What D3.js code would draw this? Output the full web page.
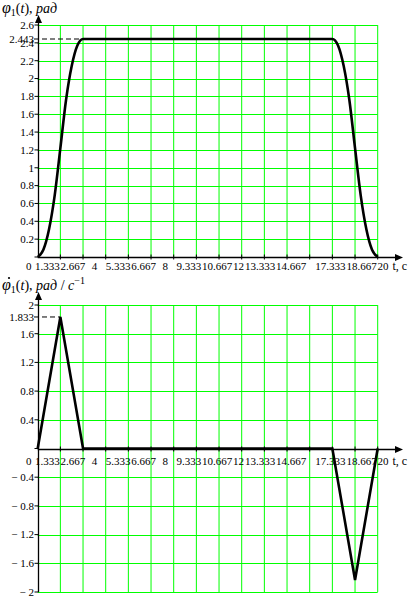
<!DOCTYPE html>
<html lang="ru">
<head>
<meta charset="UTF-8">
<title>φ1(t) и φ̇1(t)</title>
<script src="https://cdnjs.cloudflare.com/ajax/libs/d3/7.8.5/d3.min.js"></script>
<style>
  body { margin: 0; background: #fff; }
  svg text { font-family: "Liberation Serif", "DejaVu Serif", serif; fill: #000; }
  .tick-label { font-size: 11px; }
  .title { font-size: 14px; }
</style>
</head>
<body>
<svg width="417" height="601"></svg>
<script>
// time grid (s) and its labels (Mathcad skipped "16")
const tGrid = [0, 1.333, 2.667, 4, 5.333, 6.667, 8, 9.333, 10.667, 12, 13.333, 14.667, 16, 17.333, 18.667, 20];
const tLabels = ["0", "1.333", "2.667", "4", "5.333", "6.667", "8", "9.333", "10.667", "12", "13.333", "14.667", "17.333", "18.667", "20"];

// angle phi1(t), rad
const phiT = [0, 0.333, 0.667, 1, 1.333, 1.667, 2, 2.333, 2.667, 17.333, 17.667, 18, 18.333, 18.667, 19, 19.333, 19.667, 20];
const phiV = [0, 0.08, 0.31, 0.69, 1.22, 1.76, 2.14, 2.37, 2.443, 2.443, 2.37, 2.14, 1.76, 1.22, 0.69, 0.31, 0.08, 0];
const phiGrid = [0, 0.2, 0.4, 0.6, 0.8, 1, 1.2, 1.4, 1.6, 1.8, 2, 2.2, 2.4, 2.6];
const phiLabels = ["0.2", "0.4", "0.6", "0.8", "1", "1.2", "1.4", "1.6", "1.8", "2", "2.2", "2.4", "2.6"];
const phiMax = 2.443;

// angular velocity, rad/s
const omegaT = [0, 1.333, 2.667, 17.333, 18.667, 20];
const omegaV = [0, 1.833, 0, 0, -1.833, 0];
const omegaGrid = [-2, -1.6, -1.2, -0.8, -0.4, 0, 0.4, 0.8, 1.2, 1.6, 2];
const omegaLabels = ["-2", "-1.6", "-1.2", "-0.8", "-0.4", "0.4", "0.8", "1.2", "1.6", "2"];
const omegaMax = 1.833;

const svg = d3.select("svg");
const green = "#00ff00";

const x = d3.scaleLinear().domain([0, 20]).range([37.7, 377.7]);
const yTop = d3.scaleLinear().domain([0, 2.6]).range([257, 25]);
const yBot = d3.scaleLinear().domain([-2, 2]).range([592, 305]);

// labels drift a little left of their ticks, like in the original
const labelX = t => x(t) - 14 * (1 - t / 20);

function fmt(s) {
    return s.startsWith("-") ? "\u2212 " + s.slice(1) : s;
}

function drawPanel(y, grid, labels, yTopVal, yBotVal, arrowTop, labelDy, special, dashToT) {
    const g = svg.append("g");

    // vertical grid
    g.selectAll(".vg").data(tGrid.filter(t => t > 0)).enter().append("line")
        .attr("x1", d => x(d)).attr("x2", d => x(d))
        .attr("y1", y(yTopVal)).attr("y2", y(yBotVal))
        .attr("stroke", green).attr("stroke-width", 1);

    // horizontal grid
    g.selectAll(".hg").data(grid.filter(v => v !== 0)).enter().append("line")
        .attr("x1", x(0)).attr("x2", x(20))
        .attr("y1", d => Math.round(y(d)) + 0.5).attr("y2", d => Math.round(y(d)) + 0.5)
        .attr("stroke", green).attr("stroke-width", 1);

    // dashed marker of the extreme value
    g.append("line")
        .attr("x1", 34).attr("x2", x(dashToT))
        .attr("y1", y(special)).attr("y2", y(special))
        .attr("stroke", "#000").attr("stroke-width", 1)
        .attr("stroke-dasharray", "5,3");

    // x axis
    const ax = Math.round(y(0)) + 0.5;
    g.append("line")
        .attr("x1", x(0)).attr("x2", 397)
        .attr("y1", ax).attr("y2", ax)
        .attr("stroke", "#000").attr("stroke-width", 1.3);
    g.append("path")
        .attr("d", `M403,${ax} L395,${ax - 3.5} L395,${ax + 3.5} Z`)
        .attr("fill", "#000");
    g.selectAll(".xt").data(tGrid.filter(t => t > 0)).enter().append("line")
        .attr("x1", d => x(d)).attr("x2", d => x(d))
        .attr("y1", ax - 3).attr("y2", ax + 2)
        .attr("stroke", "#000").attr("stroke-width", 1);

    // y axis
    const yx = Math.round(x(0)) + 0.5;
    g.append("line")
        .attr("x1", yx).attr("x2", yx)
        .attr("y1", y(yBotVal)).attr("y2", arrowTop + 6)
        .attr("stroke", "#000").attr("stroke-width", 1.3);
    g.append("path")
        .attr("d", `M${yx},${arrowTop} L${yx - 3.5},${arrowTop + 8} L${yx + 3.5},${arrowTop + 8} Z`)
        .attr("fill", "#000");
    g.selectAll(".yt").data(grid).enter().append("line")
        .attr("x1", yx - 4).attr("x2", yx)
        .attr("y1", d => y(d)).attr("y2", d => y(d))
        .attr("stroke", "#000").attr("stroke-width", 1);

    // y labels
    const yl = labels.map(Number).concat([special]);
    const ys = labels.concat([String(special)]);
    g.selectAll(".yl").data(yl).enter().append("text")
        .attr("class", "tick-label")
        .attr("x", 34).attr("y", d => y(d))
        .attr("dy", "0.35em")
        .attr("text-anchor", "end")
        .text((d, i) => fmt(ys[i]));

    // x labels: centred near the tick, pushed right so they never overlap
    const xl = g.selectAll(".xl").data(tLabels).enter().append("text")
        .attr("class", "tick-label")
        .attr("y", ax + labelDy)
        .text(d => d);
    let prevRight = -Infinity;
    xl.each(function (d) {
        const w = this.getComputedTextLength();
        let left = +d === 0 ? 26 : labelX(+d) - w / 2;
        left = Math.max(left, prevRight + 0.8);
        d3.select(this).attr("x", left);
        prevRight = left + w;
    });
    g.append("text")
        .attr("class", "tick-label")
        .attr("x", Math.max(384, prevRight + 4)).attr("y", ax + labelDy)
        .style("font-size", "12px")
        .text("t, с");
    return g;
}

// upper plot: phi1(t)
const gTop = drawPanel(yTop, phiGrid, phiLabels, 2.6, 0, 15, 12, phiMax, 2.667);
gTop.append("path")
    .datum(phiT.map((t, i) => [t, phiV[i]]))
    .attr("d", d3.line().x(d => x(d[0])).y(d => yTop(d[1])).curve(d3.curveMonotoneX))
    .attr("fill", "none").attr("stroke", "#000").attr("stroke-width", 2.6);

// lower plot: dphi1/dt
const gBot = drawPanel(yBot, omegaGrid, omegaLabels, 2, -2, 292, 15, omegaMax, 1.333);
gBot.append("path")
    .datum(omegaT.map((t, i) => [t, omegaV[i]]))
    .attr("d", d3.line().x(d => x(d[0])).y(d => yBot(d[1])))
    .attr("fill", "none").attr("stroke", "#000").attr("stroke-width", 2.6)
    .attr("stroke-linejoin", "miter");

// axis titles
function title(yPos, dotted, unit) {
    const t = svg.append("text").attr("class", "title").attr("x", 2).attr("y", yPos);
    t.append("tspan").style("font-style", "italic").style("font-size", "16px").text("φ");
    t.append("tspan").attr("dy", 3).style("font-size", "10px").text("1");
    t.append("tspan").attr("dy", -3).text("(");
    t.append("tspan").style("font-style", "italic").text("t");
    t.append("tspan").text("), ");
    t.append("tspan").style("font-style", "italic").text("рад");
    if (unit) {
        t.append("tspan").text(" / ");
        t.append("tspan").style("font-style", "italic").text("с");
        t.append("tspan").attr("dy", -6).style("font-size", "10px").text("\u22121");
    }
    if (dotted) {
        // time-derivative dot above phi
        svg.append("circle").attr("cx", 9).attr("cy", yPos - 12).attr("r", 1.1).attr("fill", "#000");
    }
}
title(13, false, false);
title(290, true, true);
</script>
</body>
</html>
